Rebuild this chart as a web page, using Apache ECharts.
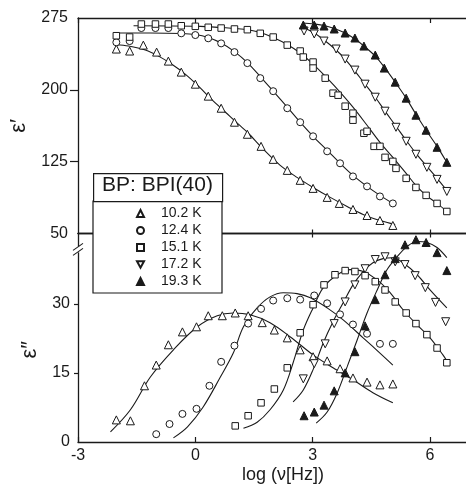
<!DOCTYPE html>
<html><head><meta charset="utf-8">
<script src="https://cdn.jsdelivr.net/npm/echarts@6/dist/echarts.min.js"></script>
<style>html,body{margin:0;padding:0;background:#fff}#c{width:466px;height:489px}</style>
</head><body><div id="c"></div>
<script>
// ---------- data (x = log(nu[Hz]), y = eps' or eps'') ----------
const seriesNames = ['10.2 K','12.4 K','15.1 K','17.2 K','19.3 K'];
const xTicks = [-3, 0, 3, 6];
const yTicksUpper = [50, 125, 200, 275];
const yTicksLower = [0, 15, 30];

// eps' measured points
const up102 = [[-2.02,242.6],[-1.68,240.5],[-1.33,246.7],[-0.99,239.4],[-0.69,230.0],[-0.36,218.5],[0,205.9],[0.33,193.4],[0.66,180.8],[1.0,166.2],[1.33,153.6],[1.68,141.0],[1.99,127.4],[2.35,115.9],[2.68,105.5],[3.01,97.1],[3.37,87.7],[3.68,81.4],[4.03,75.1],[4.39,68.8],[4.72,63.6],[5.05,58.4]];
const up124 = [[-2.02,249.6],[-1.68,250.9],[-1.38,264.5],[-1.02,264.5],[-0.69,264.5],[-0.36,259.0],[0,257.2],[0.33,253.8],[0.66,248.5],[1.0,239.4],[1.33,227.9],[1.66,212.2],[1.99,198.6],[2.35,180.8],[2.68,166.2],[3.01,151.5],[3.37,135.8],[3.70,123.3],[4.03,109.6],[4.39,99.2],[4.72,88.7],[5.05,81.4]];
const up151 = [[-2.02,256.5],[-1.68,255.1],[-1.38,268.7],[-1.02,268.7],[-0.69,268.7],[-0.36,266.9],[0,266.3],[0.33,265.3],[0.66,264.5],[1.0,263.5],[1.33,262.8],[1.66,259.0],[1.99,255.1],[2.35,246.7],[2.68,240.5],[2.76,234.2],[3.01,229.0],[3.01,222.7],[3.32,212.2],[3.52,196.5],[3.65,194.4],[3.83,182.9],[4.03,175.6],[4.03,168.3],[4.31,154.7],[4.39,156.7],[4.57,141.0],[4.72,141.0],[4.85,129.5],[5.05,125.3],[5.13,118.0],[5.39,107.6],[5.64,98.1],[5.90,89.8],[6.18,81.4],[6.43,73.0]];
const up172 = [[2.78,261.4],[3.04,258.3],[3.29,250.9],[3.60,242.6],[3.83,232.1],[4.08,220.6],[4.34,205.9],[4.60,192.3],[4.85,177.7],[5.13,160.9],[5.39,146.3],[5.64,132.7],[5.92,119.1],[6.18,106.5],[6.43,93.9]];
const up193 = [[2.76,267.7],[3.04,267.7],[3.29,266.6],[3.55,263.5],[3.83,259.3],[4.08,254.1],[4.31,245.7],[4.60,236.3],[4.83,222.7],[5.11,208.0],[5.39,191.3],[5.64,173.5],[5.90,157.8],[6.18,140.0],[6.43,124.3]];

// eps' fitted curves
const upFit102 = [[-2.02,247.1],[-1.71,245.7],[-1.28,241.5],[-0.94,235.2],[-0.61,226.9],[-0.26,216.4],[0.08,203.8],[0.41,190.2],[0.77,176.6],[1.10,164.1],[1.33,155.7],[1.74,137.9],[2.17,121.2],[2.60,108.6],[3.01,98.1],[3.45,87.7],[3.88,78.3],[4.29,69.9],[4.72,63.6],[5.11,59.4]];
const upFit124 = [[-2.02,259.3],[-1.15,259.3],[-0.36,258.8],[0,257.7],[0.33,254.6],[0.66,248.8],[1.0,239.9],[1.33,228.4],[1.66,213.8],[1.99,198.6],[2.35,181.9],[2.68,166.2],[3.01,151.5],[3.37,136.9],[3.70,123.3],[4.03,110.7],[4.39,99.2],[4.72,89.8],[5.05,81.4]];
const upFit151 = [[-1.58,266.9],[0.13,266.3],[1.02,264.0],[1.35,262.8],[1.66,259.8],[1.99,254.6],[2.35,247.3],[2.68,238.4],[3.01,226.9],[3.37,212.2],[3.70,197.6],[4.03,181.9],[4.39,163.0],[4.72,145.2],[5.05,129.5],[5.39,112.8],[5.64,100.2],[5.90,89.8],[6.18,81.4],[6.43,73.0]];
const upFit172 = [[2.73,265.6],[3.04,259.3],[3.29,252.0],[3.57,242.6],[3.83,232.1],[4.08,219.5],[4.34,205.9],[4.60,192.3],[4.85,177.7],[5.13,162.0],[5.39,147.3],[5.64,133.7],[5.92,120.1],[6.18,107.6],[6.43,95.0]];
const upFit193 = [[2.73,269.8],[3.04,268.7],[3.29,267.2],[3.55,264.0],[3.83,259.3],[4.08,253.0],[4.31,245.7],[4.60,235.2],[4.83,223.7],[5.11,208.0],[5.39,191.3],[5.64,174.5],[5.90,157.8],[6.18,141.0],[6.43,124.3]];

// eps'' measured points
const lo102 = [[-2.02,4.8],[-1.66,4.6],[-1.30,12.2],[-1.0,16.7],[-0.69,21.1],[-0.33,23.9],[0.03,25.0],[0.33,27.4],[0.69,27.4],[1.02,28.0],[1.35,27.4],[1.71,25.9],[2.02,24.3],[2.35,22.6],[2.68,20.0],[3.01,18.5],[3.37,17.6],[3.70,15.9],[4.03,13.9],[4.39,13.0],[4.72,12.4],[5.05,12.6]];
const lo124 = [[-1.0,1.7],[-0.66,3.9],[-0.33,6.1],[0.03,7.2],[0.36,12.2],[0.66,17.4],[1.0,20.9],[1.35,25.7],[1.68,28.9],[1.99,30.7],[2.35,31.2],[2.68,30.9],[3.04,31.8],[3.37,30.1],[3.70,27.7],[4.03,25.5],[4.39,23.5],[4.72,21.3],[5.05,21.3]];
const lo151 = [[1.02,3.5],[1.35,5.7],[1.68,8.5],[2.02,11.5],[2.35,16.1],[2.68,23.7],[3.01,29.8],[3.29,34.1],[3.57,36.3],[3.83,37.2],[4.08,37.0],[4.34,36.1],[4.60,34.8],[4.85,33.0],[5.11,30.4],[5.39,28.0],[5.64,25.7],[5.92,23.3],[6.18,20.4],[6.43,17.2]];
const lo172 = [[2.76,13.7],[3.04,17.0],[3.32,21.3],[3.55,25.7],[3.83,30.4],[4.08,34.1],[4.34,37.6],[4.60,39.6],[4.85,40.2],[5.11,39.1],[5.36,38.5],[5.62,36.1],[5.88,33.5],[6.14,30.3],[6.40,26.1]];
const lo193 = [[2.78,5.7],[3.04,6.5],[3.29,8.0],[3.55,11.1],[3.83,15.0],[4.08,19.6],[4.34,25.2],[4.60,30.9],[4.85,36.3],[5.11,39.8],[5.36,42.8],[5.64,43.9],[5.90,43.3],[6.18,41.1],[6.43,37.2]];

// eps'' fitted curves
const loFit102 = [[-2.17,2.2],[-1.66,7.0],[-1.15,14.1],[-0.56,20.0],[0.05,25.0],[0.56,27.4],[0.97,28.0],[1.40,27.6],[1.91,25.9],[2.43,22.8],[3.01,18.9],[3.52,16.1],[4.03,13.5],[4.54,10.7],[5.05,8.5]];
const loFit124 = [[-0.56,0.9],[-0.20,3.3],[0.20,7.6],[0.64,14.1],[0.97,19.3],[1.23,25.0],[1.58,29.1],[1.91,31.5],[2.25,32.4],[2.60,32.2],[2.94,31.3],[3.37,29.1],[3.78,26.5],[4.29,22.6],[4.72,19.3],[5.05,16.7]];
const loFit151 = [[1.23,3.0],[1.58,4.3],[1.91,7.0],[2.25,11.3],[2.50,17.2],[2.76,24.3],[3.01,29.1],[3.27,33.5],[3.63,36.3],[3.96,37.4],[4.29,37.0],[4.65,35.2],[4.98,32.4],[5.31,28.7],[5.67,25.4],[6.0,22.6],[6.33,18.9],[6.43,17.6]];
const loFit172 = [[2.50,8.7],[2.76,11.3],[3.01,15.7],[3.27,21.5],[3.52,26.1],[3.78,30.2],[4.03,34.1],[4.29,37.0],[4.54,38.9],[4.80,39.8],[5.05,40.0],[5.31,38.9],[5.67,36.3],[6.0,33.0],[6.43,29.1]];
const loFit193 = [[3.09,4.1],[3.37,6.5],[3.63,10.7],[3.88,16.3],[4.14,22.2],[4.39,28.0],[4.65,33.0],[4.90,37.4],[5.16,40.2],[5.41,42.4],[5.67,43.5],[5.92,43.3],[6.18,42.2],[6.43,40.0]];

// ---------- styling ----------
const INK = '#1a1a1a';
const FONT = 'Liberation Sans, Arial, sans-serif';
const invTri = 'path://M0,0L10,0L5,9Z';
const sym = [
  {symbol:'triangle', size:8, fill:'#fff'},
  {symbol:'circle', size:7, fill:'#fff'},
  {symbol:'rect', size:6.5, fill:'#fff'},
  {symbol:invTri, size:8, fill:'#fff'},
  {symbol:'triangle', size:8, fill:INK}
];
const upPts = [up102, up124, up151, up172, up193];
const upFits = [upFit102, upFit124, upFit151, upFit172, upFit193];
const loPts = [lo102, lo124, lo151, lo172, lo193];
const loFits = [loFit102, loFit124, loFit151, loFit172, loFit193];

const series = [];
seriesNames.forEach((name, i) => {
  const s = sym[i];
  [[upFits[i],0,0],[loFits[i],2,1]].forEach(([d,xi,yi]) => series.push({
    name: name + ' fit', type:'line', data:d, xAxisIndex:xi, yAxisIndex:yi,
    showSymbol:false, smooth:0.35, lineStyle:{color:INK, width:1.1}, z:2, silent:true
  }));
  [[upPts[i],0,0],[loPts[i],2,1]].forEach(([d,xi,yi]) => series.push({
    name: name, type:'scatter', data:d, xAxisIndex:xi, yAxisIndex:yi,
    symbol:s.symbol, symbolSize:s.size,
    itemStyle:{color:s.fill, borderColor:INK, borderWidth:1, opacity:1}, z:4
  }));
});

const xBase = (gi, pos, opts) => Object.assign({
  type:'value', gridIndex:gi, position:pos, min:-3, max:6.92,
  axisLine:{show:true, onZero:false, lineStyle:{color:INK, width:1.3}},
  axisTick:{show:true, inside:true, length:5, customValues:xTicks, lineStyle:{color:INK, width:1.2}},
  axisLabel:{show:false},
  splitLine:{show:false}
}, opts || {});

const option = {
  animation:false,
  backgroundColor:'#fff',
  textStyle:{fontFamily:FONT},
  grid:[
    {left:78, right:0, top:18, height:215.5},
    {left:78, right:0, top:233.5, height:208.5}
  ],
  xAxis:[
    xBase(0,'bottom',{axisTick:{show:true, inside:true, length:4, customValues:[3,6], lineStyle:{color:INK, width:1.2}}}),
    xBase(0,'top'),
    xBase(1,'bottom',{
      axisLabel:{show:true, customValues:xTicks, margin:6, fontSize:16, color:INK, fontFamily:FONT,
        formatter:v => String(v)},
      name:'log (\u03bd[Hz])', nameLocation:'middle', nameGap:24,
      nameTextStyle:{fontSize:18, color:INK, fontFamily:FONT, padding:[0,0,0,22]}
    }),
    xBase(1,'top',{axisTick:{show:true, inside:true, length:4, customValues:[3,6], lineStyle:{color:INK, width:1.2}}})
  ],
  yAxis:[
    {type:'value', gridIndex:0, position:'left', min:50, max:275, interval:75,
     axisLine:{show:true, onZero:false, lineStyle:{color:INK, width:1.3}},
     axisTick:{show:true, inside:false, length:8, customValues:[125,200], lineStyle:{color:INK, width:1.2}},
     axisLabel:{show:true, customValues:yTicksUpper, margin:10, fontSize:16, color:INK, fontFamily:FONT},
     splitLine:{show:false},
     name:'\u03b5\u2032', nameLocation:'middle', nameGap:35, nameRotate:90,
     nameTextStyle:{fontSize:22, color:INK, fontFamily:FONT}},
    {type:'value', gridIndex:1, position:'left', min:0, max:45.25,
     axisLine:{show:true, onZero:false, lineStyle:{color:INK, width:1.3}},
     axisTick:{show:true, inside:false, length:4, customValues:[15,30], lineStyle:{color:INK, width:1.2}},
     axisLabel:{show:true, customValues:yTicksLower, margin:8, fontSize:16, color:INK, fontFamily:FONT},
     splitLine:{show:false},
     name:'\u03b5\u2033', nameLocation:'middle', nameGap:35, nameRotate:90,
     nameTextStyle:{fontSize:22, color:INK, fontFamily:FONT, padding:[0,24,0,0]}}
  ],
  legend:{
    data:seriesNames, orient:'vertical', left:93, top:201,
    padding:[4,1,3,43], itemWidth:7, itemHeight:7, itemGap:0,
    backgroundColor:'#fff', borderColor:INK, borderWidth:1.2, borderRadius:0,
    selectedMode:false,
    textStyle:{fontFamily:FONT, fontSize:14, color:INK, lineHeight:17, width:60, padding:[0,0,0,12]}
  },
  series:series
};

const chart = echarts.init(document.getElementById('c'), null, {renderer:'canvas'});
chart.setOption(option);

// decorations: legend title box and axis break mark
const bx = chart.convertToPixel({xAxisIndex:2}, -3);
const by = chart.convertToPixel({yAxisIndex:1}, 41.8);
chart.setOption({
  graphic:[
    {type:'rect', left:93, top:173, z:10,
     shape:{width:129, height:28}, style:{fill:'#fff', stroke:INK, lineWidth:1.2}},
    {type:'text', z:11, x:157.5, y:175,
     style:{text:'BP: BPI(40)', font:'21px ' + FONT, fill:INK, textAlign:'center', textVerticalAlign:'top'}},
    {type:'rect', z:10, shape:{x:bx-3, y:by-3, width:6, height:6}, style:{fill:'#fff'}},
    {type:'line', z:11, shape:{x1:bx-5, y1:by+1, x2:bx+5, y2:by-6}, style:{stroke:INK, lineWidth:1.1}},
    {type:'line', z:11, shape:{x1:bx-5, y1:by+6, x2:bx+5, y2:by-1}, style:{stroke:INK, lineWidth:1.1}}
  ]
});
</script>
</body></html>
